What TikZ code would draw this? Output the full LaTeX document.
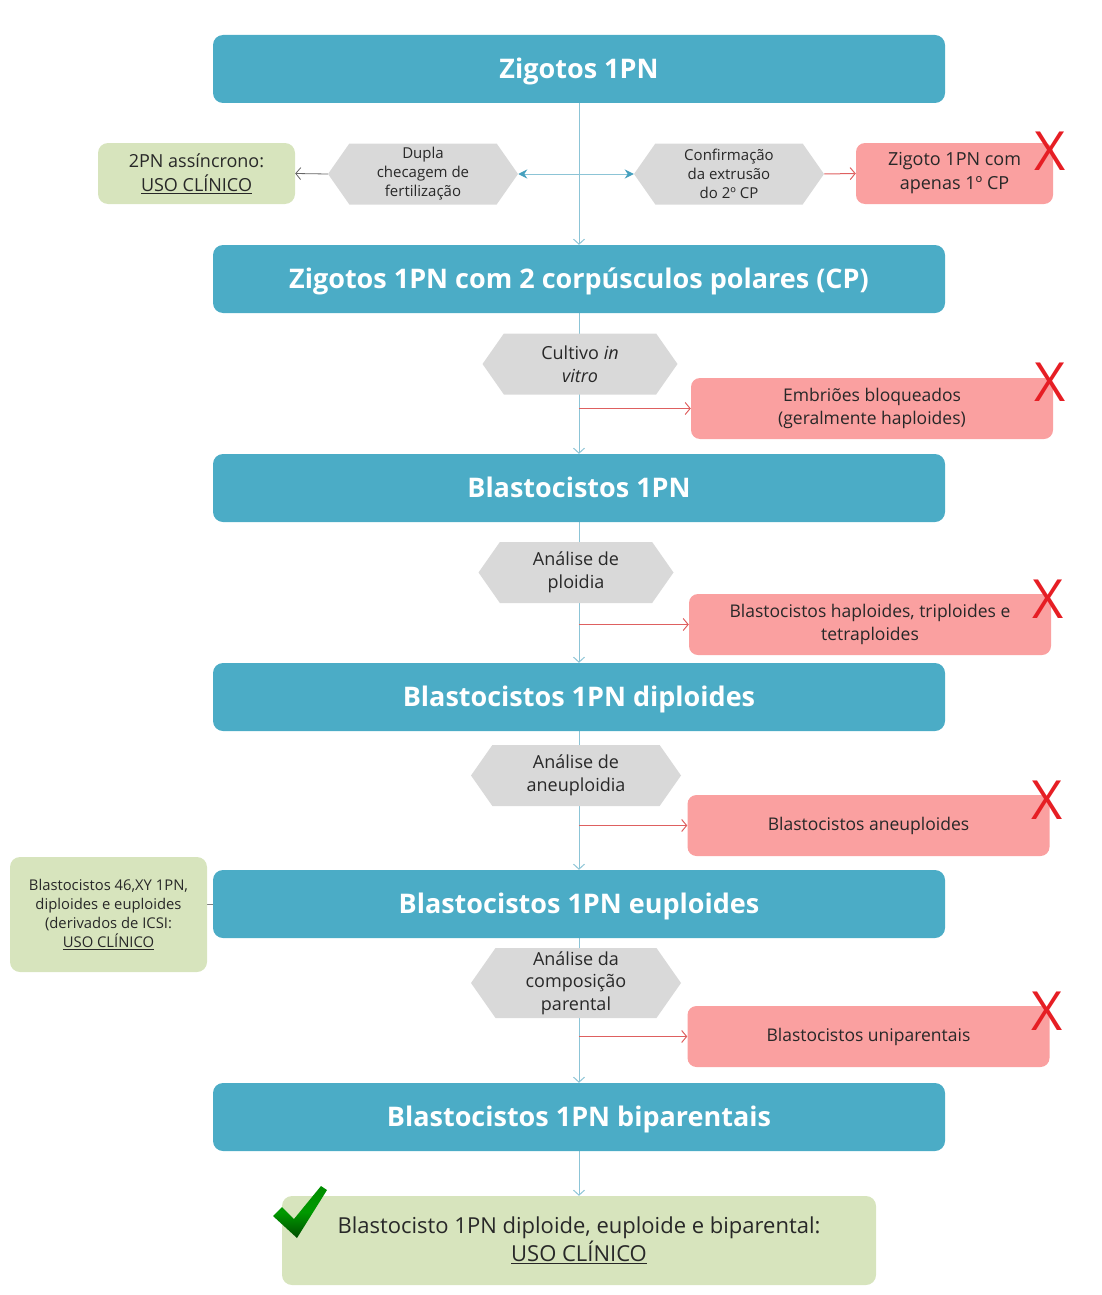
\documentclass[tikz,border=0pt]{standalone}
\usepackage{fontspec}
\setmainfont{Open Sans}
\usetikzlibrary{shapes.symbols,arrows.meta,backgrounds}
\definecolor{hdrc}{RGB}{75,172,198}
\definecolor{tipc}{RGB}{70,160,190}
\definecolor{hexc}{RGB}{217,217,217}
\definecolor{redc}{RGB}{250,160,160}
\definecolor{grnc}{RGB}{215,228,189}
\definecolor{linec}{RGB}{140,196,214}
\definecolor{redl}{RGB}{222,96,96}
\definecolor{xred}{RGB}{230,30,36}
\definecolor{txt}{RGB}{40,40,40}
\begin{document}
\begin{tikzpicture}[x=1pt,y=-1pt,
  hdr/.style={fill=hdrc, rounded corners=10pt, minimum width=732pt, minimum height=68pt, text=white, font=\bfseries\fontsize{27}{30}\selectfont, inner sep=0pt, text depth=2pt},
  hexa/.style={signal, signal to=west and east, signal pointer angle=110, fill=hexc, minimum width=190pt, minimum height=61pt, align=center, text=txt, font=\fontsize{15}{19}\selectfont, inner sep=1pt},
  redbox/.style={fill=redc, rounded corners=9pt, minimum width=362pt, minimum height=61pt, align=center, text=txt, font=\fontsize{17.5}{23}\selectfont, inner sep=0pt},
  grnbox/.style={fill=grnc, rounded corners=10pt, align=center, text=txt, inner sep=0pt},
  xmark/.style={text=xred, font=\fontsize{54}{54}\selectfont, inner sep=0pt},
  vline/.style={draw=linec, line width=1pt, -{Straight Barb[length=5pt,width=11pt]}},
  bluearr/.style={draw=linec, line width=1pt, -{Stealth[length=9pt,width=9pt,color=tipc]}},
  redarr/.style={draw=redl, line width=1pt, -{Straight Barb[length=5pt,width=12pt]}},
  grayarr/.style={draw=gray!80!black, line width=0.8pt, -{Straight Barb[length=5pt,width=12pt]}},
  grayline/.style={draw=gray, line width=0.8pt}
]
\useasboundingbox (0,0) rectangle (1102,1295);

% main column
\node[hdr] (z1) at (579,69) {Zigotos 1PN};
\node[hdr] (z2) at (579,279) {Zigotos 1PN com 2 corpúsculos polares (CP)};
\node[hdr] (b3) at (579,488) {Blastocistos 1PN};
\node[hdr] (b4) at (579,697) {Blastocistos 1PN diploides};
\node[hdr] (b5) at (579,904) {Blastocistos 1PN euploides};
\node[hdr] (b6) at (579,1117) {Blastocistos 1PN biparentais};

% top row
\node[hexa] (h1) at (423,174) {Dupla\\checagem de\\fertilização};
\node[hexa] (h2) at (729,174) {Confirmação\\da extrusão\\do 2º CP};
\node[grnbox, minimum width=197pt, minimum height=61pt, font=\fontsize{18}{24}\selectfont] (g1) at (196.5,173.5) {2PN assíncrono:\\\underline{USO CLÍNICO}};
\node[redbox, minimum width=197pt, font=\fontsize{18}{24}\selectfont] (r1) at (954.5,173.5) {Zigoto 1PN com\\apenas 1º CP};

% steps
\node[hexa, minimum width=195pt, font=\fontsize{18}{23}\selectfont] (h3) at (580,364) {Cultivo \textit{in}\\\textit{vitro}};
\node[redbox] (r3) at (872,408.5) {Embriões bloqueados\\(geralmente haploides)};
\node[hexa, minimum width=195pt, font=\fontsize{18}{23}\selectfont] (h4) at (576,572.5) {Análise de\\ploidia};
\node[redbox] (r4) at (870,624.5) {Blastocistos haploides, triploides e\\tetraploides};
\node[hexa, minimum width=210pt, font=\fontsize{18}{23}\selectfont] (h5) at (576,775.5) {Análise de\\aneuploidia};
\node[redbox] (r5) at (868.5,825.5) {Blastocistos aneuploides};
\node[hexa, minimum width=210pt, minimum height=70pt, font=\fontsize{18}{22.5}\selectfont] (h6) at (576,983) {Análise da\\composição\\parental};
\node[redbox] (r6) at (868.5,1036.5) {Blastocistos uniparentais};

% green boxes
\node[grnbox, minimum width=197pt, minimum height=115pt, font=\fontsize{14.8}{19}\selectfont] (g2) at (108.5,914.5) {Blastocistos 46,XY 1PN,\\diploides e euploides\\(derivados de ICSI:\\\underline{USO CLÍNICO}};
\node[grnbox, minimum width=594pt, minimum height=89pt, font=\fontsize{22}{28}\selectfont] (g3) at (579,1240.5) {Blastocisto 1PN diploide, euploide e biparental:\\\underline{USO CLÍNICO}};

% X marks
\node[xmark] (x1) at (1050,151) {X};
\node[xmark] (x3) at (1050,382) {X};
\node[xmark] (x4) at (1048,599) {X};
\node[xmark] (x5) at (1047,800) {X};
\node[xmark] (x6) at (1047,1011) {X};

% check mark
\shade[top color=green!55!black, bottom color=green!30!black, middle color=green!60!black]
  (273,1216) -- (282,1207) -- (294,1219) -- (321,1186) -- (327,1190) -- (297,1238) -- cycle;

% connectors
\begin{scope}[on background layer]
\draw[vline] (z1.south) -- (z2.north);
\draw[vline] (z2.south) -- (b3.north);
\draw[vline] (b3.south) -- (b4.north);
\draw[vline] (b4.south) -- (b5.north);
\draw[vline] (b5.south) -- (b6.north);
\draw[vline] (b6.south) -- (g3.north);
\coordinate (j1) at (579,174);
\draw[bluearr] (j1) -- (h1.east);
\draw[bluearr] (j1) -- (h2.west);
\draw[grayarr] (h1.west) -- (g1.east);
\draw[redarr] (h2.east) -- (r1.west);
\draw[redarr] (z2.south |- r3.west) -- (r3.west);
\draw[redarr] (b3.south |- r4.west) -- (r4.west);
\draw[redarr] (b4.south |- r5.west) -- (r5.west);
\draw[redarr] (b5.south |- r6.west) -- (r6.west);
\draw[grayline] (b5.west -| g2.east) -- (b5.west);
\end{scope}
\end{tikzpicture}
\end{document}
